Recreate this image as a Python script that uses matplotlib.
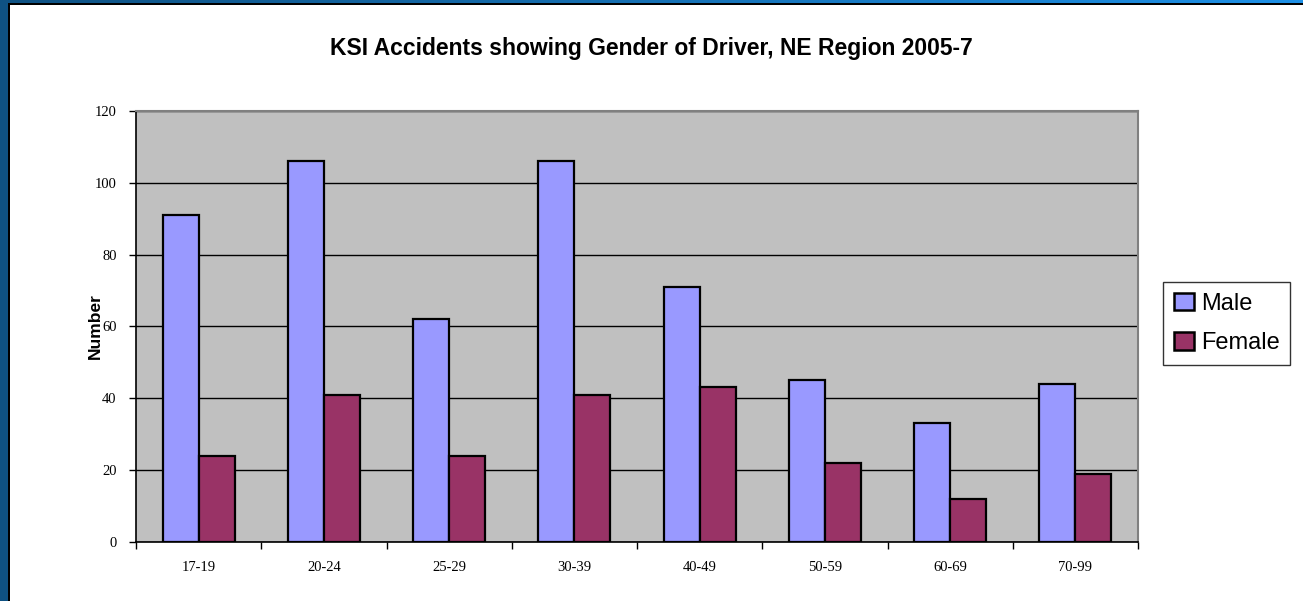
import numpy as np
import matplotlib
matplotlib.use("Agg")
import matplotlib.pyplot as plt
from matplotlib.patches import Rectangle, Patch
from matplotlib.colors import LinearSegmentedColormap

# Age bands and counts
ages = ["17-19", "20-24", "25-29", "30-39", "40-49", "50-59", "60-69", "70-99"]
male = [91, 106, 62, 106, 71, 45, 33, 44]
female = [24, 41, 24, 41, 43, 22, 12, 19]
y_ticks = [0, 20, 40, 60, 80, 100, 120]

W, H = 1303, 601
fig = plt.figure(figsize=(W / 100, H / 100), dpi=100)
fig.patch.set_facecolor("white")

# Blue frame on the left and top of the slide
fig.patches.append(Rectangle((0, 0), 8 / W, 1, transform=fig.transFigure,
                             facecolor="#0f5283", edgecolor="none", zorder=0))
fig.patches.append(Rectangle((8 / W, 0), 2 / W, 1 - 3 / H, transform=fig.transFigure,
                             facecolor="black", edgecolor="none", zorder=0))
fig.patches.append(Rectangle((8 / W, 1 - 5 / H), 1 - 8 / W, 2 / H, transform=fig.transFigure,
                             facecolor="black", edgecolor="none", zorder=0))
top = fig.add_axes([0, 1 - 3 / H, 1, 3 / H])
cmap = LinearSegmentedColormap.from_list("frame", ["#0f5283", "#1e90e6"])
top.imshow(np.linspace(0, 1, 200)[None, :], aspect="auto", cmap=cmap)
top.axis("off")

ax = fig.add_axes([136 / W, 1 - 541.7 / H, (1138 - 136) / W, (541.7 - 111) / H])
ax.set_facecolor("#c0c0c0")

x = np.arange(len(ages))
w = 0.2875
ax.bar(x - w / 2, male, w, color="#9999ff", edgecolor="black", linewidth=1.6, label="Male", zorder=3)
ax.bar(x + w / 2, female, w, color="#993366", edgecolor="black", linewidth=1.6, label="Female", zorder=3)

ax.set_xlim(-0.5, len(ages) - 0.5)
ax.set_ylim(0, 120)
ax.set_yticks(y_ticks)
ax.set_yticklabels([str(v) for v in y_ticks], fontfamily="Liberation Serif", fontsize=10.5)
ax.yaxis.grid(True, color="black", linewidth=1, zorder=1)
ax.set_axisbelow(True)

ax.set_xticks(x)
ax.set_xticklabels(ages, fontfamily="Liberation Serif", fontsize=10.5)
ax.set_xticks(np.arange(len(ages) + 1) - 0.5, minor=True)
ax.tick_params(axis="x", which="major", length=0, pad=14)
ax.tick_params(axis="x", which="minor", length=5, width=1, color="black")
ax.tick_params(axis="y", length=5, width=1, color="black", pad=9)

for side in ["left", "bottom"]:
    ax.spines[side].set_color("black")
    ax.spines[side].set_linewidth(1.2)
for side in ["top", "right"]:
    ax.spines[side].set_color("#808080")
    ax.spines[side].set_linewidth(1.5)

fig.text(0.4996, 1 - 48 / H, "KSI Accidents showing Gender of Driver, NE Region 2005-7",
         ha="center", va="center", fontsize=16.5, fontweight="bold", fontfamily="Liberation Sans")
fig.text(95 / W, 1 - 326 / H, "Number", rotation=90, ha="center", va="center",
         fontsize=12.5, fontweight="bold", fontfamily="Liberation Sans")

handles = [Patch(facecolor="#9999ff", edgecolor="black", linewidth=1.8, label="Male"),
           Patch(facecolor="#993366", edgecolor="black", linewidth=1.8, label="Female")]
leg = fig.legend(handles=handles, loc="upper left", bbox_to_anchor=(1163 / W, 1 - 282 / H),
                 prop={"family": "Liberation Sans", "size": 17}, frameon=True, fancybox=False,
                 edgecolor="black", handlelength=0.85, handleheight=0.75, handletextpad=0.3,
                 borderpad=0.45, labelspacing=0.75, borderaxespad=0)
leg.get_frame().set_linewidth(1)

fig.savefig("out.png", dpi=100, facecolor="white")
